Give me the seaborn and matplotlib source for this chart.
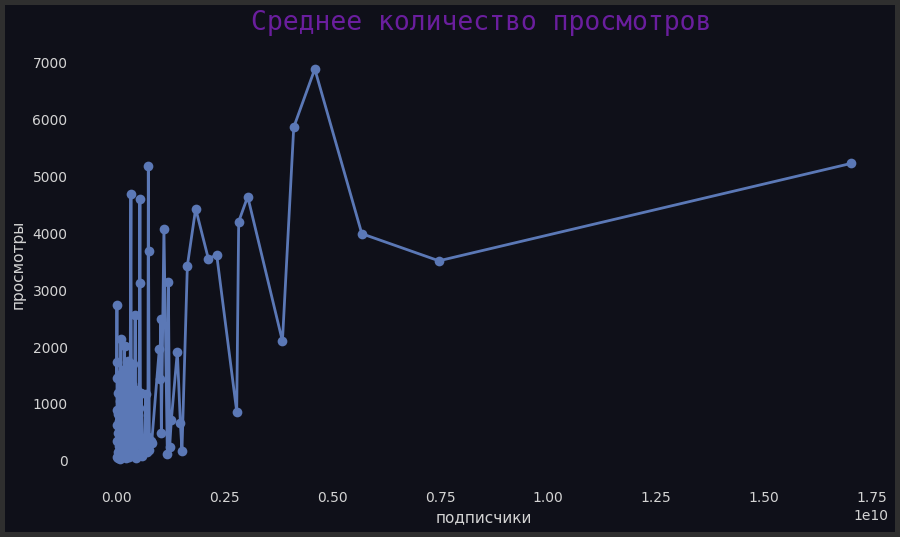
import numpy as np
import pandas as pd
import matplotlib
matplotlib.use("Agg")
import matplotlib.pyplot as plt
import seaborn as sns

# subscribers in millions
subs_millions = [
    3, 5, 8, 10, 12, 15, 18, 22, 26, 30, 35, 40, 45, 52, 58, 65, 72, 80, 88,
    100, 108, 115, 122, 130, 140, 150, 160, 170, 186, 195, 205, 215, 225, 240,
    255, 265, 280, 295, 310, 332, 345, 360, 375, 390, 405, 430, 445, 457, 470,
    485, 500, 520, 534, 540, 555, 575, 600, 625, 650, 673, 700, 726, 735, 740,
    760, 790, 812, 990, 1005, 1020, 1037, 1097, 1176, 1200, 1230, 1269, 1408,
    1478, 1515, 1640, 1833, 2127, 2320, 2784, 2830, 3039, 3844, 4106, 4594,
    5684, 7470, 17029,
]
views = [
    1738, 1455, 2740, 350, 900, 60, 620, 150, 1200, 40, 480, 820, 90, 1500,
    260, 700, 30, 1050, 180, 2144, 400, 1300, 60, 750, 220, 1600, 100, 950,
    2015, 300, 1400, 50, 850, 150, 1750, 400, 1100, 70, 600, 4697, 120, 1350,
    250, 1700, 90, 2563, 500, 53, 1250, 300, 800, 925, 3134, 4614, 150, 1200,
    80, 400, 189, 1178, 150, 412, 5180, 3683, 180, 350, 306, 1968, 1438, 2498,
    483, 4083, 118, 3152, 247, 719, 1922, 660, 177, 3430, 4437, 3553, 3624,
    866, 4207, 4649, 2104, 5869, 6894, 3995, 3518, 5233,
]

title = "Среднее количество просмотров"
xlabel = "подписчики"
ylabel = "просмотры"

df = pd.DataFrame({"подписчики": np.array(subs_millions, dtype=float) * 1e6,
                   "просмотры": views})

bg = "#0f1019"
txt = "#d4d4d4"

sns.set_theme(style="dark")
plt.rcParams["font.family"] = ["DejaVu Sans"]

fig = plt.figure(figsize=(9, 5.37), dpi=100)
fig.patch.set_facecolor(bg)
fig.patch.set_edgecolor("#2f2f2f")
fig.patch.set_linewidth(6)
ax = fig.add_axes([80 / 900, 1 - 478.5 / 537, (888 - 80) / 900, (478.5 - 49.5) / 537])
ax.set_facecolor(bg)

sns.lineplot(data=df, x="подписчики", y="просмотры", ax=ax, marker="o",
             color="#5b78b6", linewidth=2, markersize=7,
             markeredgewidth=0, errorbar=None, sort=True)

for s in ax.spines.values():
    s.set_visible(False)
ax.grid(False)
ax.tick_params(axis="both", colors=txt, labelsize=10, length=0, pad=9)
ax.xaxis.get_offset_text().set_color(txt)
ax.xaxis.get_offset_text().set_fontsize(10)
ax.set_yticks(range(0, 7001, 1000))
ax.set_xlabel(xlabel, color=txt, fontsize=11, labelpad=4)
ax.set_ylabel(ylabel, color=txt, fontsize=11, labelpad=5)
fig.text(0.535, 1 - 23 / 537, title, color="#6a1e9e", fontsize=19,
         family="DejaVu Sans Mono", ha="center", va="center")

fig.savefig("out.png", dpi=100, facecolor=fig.get_facecolor(),
            edgecolor=fig.get_edgecolor())
